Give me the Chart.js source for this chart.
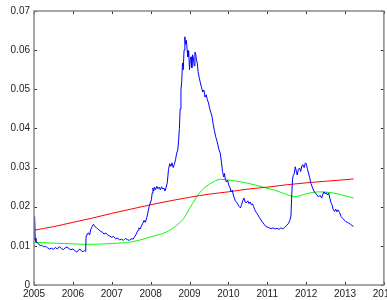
<!DOCTYPE html>
<html>
<head>
<meta charset="utf-8">
<script src="https://cdn.jsdelivr.net/npm/chart.js@4"></script>
<style>
  html, body { margin: 0; padding: 0; background: #fff; overflow: hidden; }
  #wrap { width: 398px; height: 300px; }
</style>
</head>
<body>
<div id="wrap"><canvas id="chart" width="398" height="300"></canvas></div>
<script>
// Rate series (decimal years)
const blueYears = [
  2005.00, 2005.01, 2005.02, 2005.03, 2005.05, 2005.08, 2005.12, 2005.16, 2005.20, 2005.25,
  2005.30, 2005.35, 2005.40, 2005.45, 2005.50, 2005.55, 2005.60, 2005.65, 2005.70, 2005.75,
  2005.80, 2005.85, 2005.90, 2005.95, 2006.00, 2006.05, 2006.10, 2006.14, 2006.18, 2006.22,
  2006.26, 2006.30, 2006.33, 2006.34, 2006.36, 2006.40, 2006.43, 2006.46, 2006.50, 2006.53,
  2006.56, 2006.60, 2006.64, 2006.68, 2006.72, 2006.76, 2006.80, 2006.85, 2006.90, 2006.95,
  2007.00, 2007.05, 2007.10, 2007.15, 2007.20, 2007.25, 2007.30, 2007.35, 2007.40, 2007.45,
  2007.50, 2007.55, 2007.58, 2007.62, 2007.65, 2007.68, 2007.70, 2007.73, 2007.76, 2007.80,
  2007.83, 2007.86, 2007.90, 2007.93, 2007.96, 2008.00, 2008.02, 2008.04, 2008.06, 2008.08,
  2008.10, 2008.13, 2008.16, 2008.19, 2008.22, 2008.25, 2008.28, 2008.31, 2008.34, 2008.37,
  2008.40, 2008.43, 2008.46, 2008.49, 2008.52, 2008.55, 2008.58, 2008.61, 2008.64, 2008.67,
  2008.70, 2008.72, 2008.74, 2008.76, 2008.78, 2008.80, 2008.82, 2008.84, 2008.86, 2008.88,
  2008.90, 2008.92, 2008.94, 2008.96, 2008.98, 2009.00, 2009.02, 2009.04, 2009.06, 2009.08,
  2009.10, 2009.12, 2009.14, 2009.16, 2009.18, 2009.20, 2009.22, 2009.25, 2009.28, 2009.31,
  2009.34, 2009.37, 2009.40, 2009.43, 2009.46, 2009.49, 2009.52, 2009.55, 2009.58, 2009.61,
  2009.64, 2009.67, 2009.70, 2009.73, 2009.76, 2009.79, 2009.82, 2009.85, 2009.88, 2009.90,
  2009.92, 2009.95, 2009.98, 2010.01, 2010.04, 2010.07, 2010.10, 2010.14, 2010.18, 2010.21,
  2010.25, 2010.28, 2010.31, 2010.34, 2010.37, 2010.40, 2010.43, 2010.46, 2010.50, 2010.53,
  2010.56, 2010.59, 2010.62, 2010.65, 2010.68, 2010.72, 2010.76, 2010.80, 2010.84, 2010.88,
  2010.92, 2010.96, 2011.00, 2011.05, 2011.10, 2011.15, 2011.20, 2011.25, 2011.30, 2011.35,
  2011.40, 2011.45, 2011.50, 2011.55, 2011.58, 2011.61, 2011.63, 2011.65, 2011.67, 2011.70,
  2011.72, 2011.75, 2011.77, 2011.80, 2011.83, 2011.86, 2011.89, 2011.92, 2011.95, 2011.98,
  2012.00, 2012.03, 2012.06, 2012.09, 2012.12, 2012.16, 2012.20, 2012.24, 2012.28, 2012.32,
  2012.36, 2012.40, 2012.43, 2012.46, 2012.49, 2012.52, 2012.55, 2012.58, 2012.61, 2012.64,
  2012.67, 2012.70, 2012.73, 2012.76, 2012.79, 2012.82, 2012.86, 2012.90, 2012.94, 2012.98,
  2013.02, 2013.06, 2013.10, 2013.14, 2013.18, 2013.22
];
const blueRates = [
  0.0120, 0.0115, 0.0175, 0.0120, 0.0110, 0.0108, 0.0105, 0.0100, 0.0102, 0.0097,
  0.0099, 0.0095, 0.0092, 0.0094, 0.0091, 0.0096, 0.0092, 0.0098, 0.0094, 0.0090,
  0.0095, 0.0097, 0.0093, 0.0090, 0.0092, 0.0088, 0.0084, 0.0089, 0.0092, 0.0087,
  0.0085, 0.0088, 0.0086, 0.0125, 0.0130, 0.0133, 0.0128, 0.0142, 0.0150, 0.0155,
  0.0150, 0.0147, 0.0143, 0.0140, 0.0137, 0.0135, 0.0130, 0.0133, 0.0127, 0.0125,
  0.0122, 0.0124, 0.0118, 0.0120, 0.0115, 0.0117, 0.0114, 0.0119, 0.0116, 0.0114,
  0.0118, 0.0117, 0.0122, 0.0128, 0.0135, 0.0140, 0.0146, 0.0143, 0.0150, 0.0158,
  0.0165, 0.0160, 0.0172, 0.0185, 0.0200, 0.0212, 0.0218, 0.0235, 0.0248, 0.0240,
  0.0250, 0.0244, 0.0252, 0.0246, 0.0250, 0.0243, 0.0251, 0.0245, 0.0248, 0.0240,
  0.0250, 0.0262, 0.0295, 0.0310, 0.0303, 0.0312, 0.0300, 0.0308, 0.0320, 0.0337,
  0.0345, 0.0370, 0.0400, 0.0450, 0.0498, 0.0520, 0.0567, 0.0550, 0.0600, 0.0634,
  0.0615, 0.0625, 0.0600, 0.0583, 0.0598, 0.0550, 0.0575, 0.0583, 0.0555, 0.0588,
  0.0580, 0.0560, 0.0595, 0.0590, 0.0575, 0.0567, 0.0545, 0.0530, 0.0516, 0.0505,
  0.0493, 0.0498, 0.0480, 0.0486, 0.0473, 0.0465, 0.0450, 0.0440, 0.0430, 0.0410,
  0.0395, 0.0380, 0.0370, 0.0358, 0.0345, 0.0337, 0.0315, 0.0290, 0.0276, 0.0285,
  0.0270, 0.0263, 0.0268, 0.0255, 0.0250, 0.0238, 0.0242, 0.0225, 0.0215, 0.0212,
  0.0205, 0.0200, 0.0197, 0.0205, 0.0215, 0.0222, 0.0212, 0.0210, 0.0215, 0.0208,
  0.0212, 0.0205, 0.0207, 0.0200, 0.0192, 0.0185, 0.0179, 0.0172, 0.0166, 0.0160,
  0.0155, 0.0150, 0.0148, 0.0146, 0.0144, 0.0146, 0.0143, 0.0145, 0.0142, 0.0146,
  0.0143, 0.0148, 0.0152, 0.0158, 0.0165, 0.0176, 0.0230, 0.0270, 0.0280, 0.0286,
  0.0302, 0.0290, 0.0281, 0.0295, 0.0299, 0.0290, 0.0305, 0.0307, 0.0300, 0.0312,
  0.0310, 0.0298, 0.0286, 0.0275, 0.0260, 0.0250, 0.0240, 0.0235, 0.0230, 0.0225,
  0.0229, 0.0222, 0.0232, 0.0238, 0.0233, 0.0236, 0.0230, 0.0235, 0.0222, 0.0210,
  0.0204, 0.0192, 0.0188, 0.0194, 0.0187, 0.0192, 0.0185, 0.0175, 0.0170, 0.0166,
  0.0162, 0.0160, 0.0158, 0.0155, 0.0152, 0.0150
];

const redYears = [2005.00, 2005.50, 2006.00, 2006.50, 2007.00, 2007.50, 2008.00, 2008.50, 2009.00,
  2009.50, 2010.00, 2010.50, 2011.00, 2011.50, 2012.00, 2012.50, 2013.00, 2013.22];
const redRates = [0.0140, 0.0149, 0.0160, 0.0171, 0.0183, 0.0194, 0.0205, 0.0215, 0.0224,
  0.0232, 0.0238, 0.0245, 0.0250, 0.0256, 0.0261, 0.0265, 0.0269, 0.0271];

const greenYears = [2005.00, 2005.50, 2006.00, 2006.30, 2006.50, 2007.00, 2007.50, 2007.84, 2008.00,
  2008.40, 2008.70, 2008.85, 2009.00, 2009.15, 2009.30, 2009.55, 2009.80, 2010.10, 2010.50,
  2010.90, 2011.20, 2011.45, 2011.70, 2011.85, 2012.00, 2012.35, 2012.70, 2013.00, 2013.22];
const greenRates = [0.0109, 0.0107, 0.0105, 0.0104, 0.0104, 0.0106, 0.0110, 0.0118, 0.0123,
  0.0135, 0.0155, 0.0170, 0.0195, 0.0220, 0.0240, 0.0260, 0.0270, 0.0267, 0.0260,
  0.0250, 0.0242, 0.0233, 0.0226, 0.0228, 0.0233, 0.0238, 0.0235, 0.0228, 0.0222];

const xTicks = [2005, 2006, 2007, 2008, 2009, 2010, 2011, 2012, 2013, 2014];
const yTicks = [0, 0.01, 0.02, 0.03, 0.04, 0.05, 0.06, 0.07];

function toPoints(xs, ys) {
    return xs.map((x, i) => ({ x: x, y: ys[i] }));
}

// MATLAB-style box with inward tick marks on all four sides
const boxPlugin = {
    id: 'matlabBox',
    afterDraw(chart) {
        const { ctx, chartArea: a, scales } = chart;
        ctx.save();
        ctx.strokeStyle = '#333';
        ctx.lineWidth = 1;
        ctx.beginPath();
        xTicks.forEach(v => {
            const px = Math.round(scales.x.getPixelForValue(v)) + 0.5;
            ctx.moveTo(px, a.bottom); ctx.lineTo(px, a.bottom - 3);
            ctx.moveTo(px, a.top); ctx.lineTo(px, a.top + 3);
        });
        yTicks.forEach(v => {
            const py = Math.round(scales.y.getPixelForValue(v)) + 0.5;
            ctx.moveTo(a.left, py); ctx.lineTo(a.left + 3, py);
            ctx.moveTo(a.right, py); ctx.lineTo(a.right - 3, py);
        });
        ctx.stroke();
        ctx.strokeStyle = '#8a8a8a';
        ctx.lineWidth = 1.5;
        ctx.strokeRect(a.left, a.top, a.right - a.left, a.bottom - a.top);
        ctx.restore();
    }
};

new Chart(document.getElementById('chart'), {
    type: 'line',
    data: {
        datasets: [
            { data: toPoints(blueYears, blueRates), borderColor: '#0000ff', borderWidth: 1, pointRadius: 0, tension: 0 },
            { data: toPoints(redYears, redRates), borderColor: '#ff0000', borderWidth: 1, pointRadius: 0, tension: 0.4, cubicInterpolationMode: 'monotone' },
            { data: toPoints(greenYears, greenRates), borderColor: '#00ff00', borderWidth: 1, pointRadius: 0, tension: 0.4, cubicInterpolationMode: 'monotone' }
        ]
    },
    options: {
        responsive: false,
        animation: false,
        layout: { padding: { top: 11, left: 10, right: 0, bottom: 0 } },
        plugins: { legend: { display: false }, tooltip: { enabled: false } },
        scales: {
            x: {
                type: 'linear', min: 2005, max: 2014,
                grid: { display: false, drawTicks: false }, border: { display: false },
                afterBuildTicks: s => { s.ticks = xTicks.map(v => ({ value: v })); },
                afterFit: s => { s.height = 15; },
                ticks: { color: '#222', padding: 3, maxRotation: 0, autoSkip: false,
                    font: { family: 'Liberation Sans, Arial, sans-serif', size: 10 },
                    callback: v => String(v) }
            },
            y: {
                type: 'linear', min: 0, max: 0.07,
                grid: { display: false, drawTicks: false }, border: { display: false },
                afterBuildTicks: s => { s.ticks = yTicks.map(v => ({ value: v })); },
                afterFit: s => { s.width = 24; },
                ticks: { color: '#222', padding: 4,
                    font: { family: 'Liberation Sans, Arial, sans-serif', size: 10 },
                    callback: v => String(+v.toFixed(2)) }
            }
        }
    },
    plugins: [boxPlugin]
});
</script>
</body>
</html>
